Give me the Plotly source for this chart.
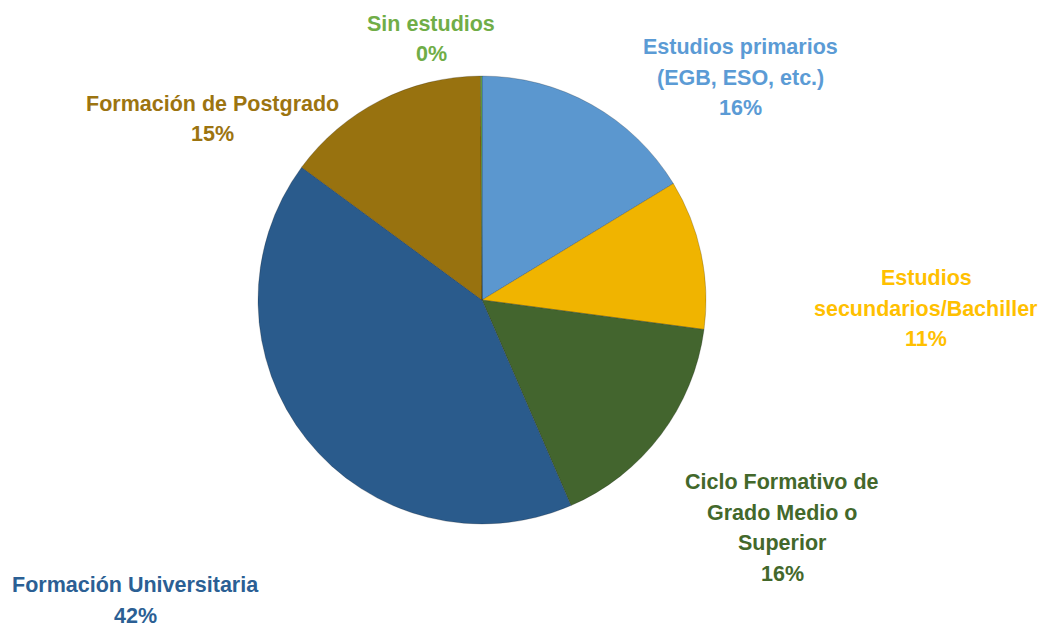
import plotly.graph_objects as go

categories = [
    "Estudios primarios<br>(EGB, ESO, etc.)",
    "Estudios<br>secundarios/Bachiller",
    "Ciclo Formativo de<br>Grado Medio o<br>Superior",
    "Formación Universitaria",
    "Formación de Postgrado",
    "Sin estudios",
]
values = [16.3, 10.8, 16.4, 41.6, 14.8, 0.1]

slice_colors = ["#5B97CF", "#F0B400", "#43652E", "#2A5B8C", "#98720F", "#70AD47"]
label_colors = ["#5B9BD5", "#FFC000", "#43682B", "#2B5F94", "#9C7410", "#70AD47"]

# label anchor positions (pixels: center x, first-line center y)
label_pos = [(740, 47), (926, 278), (782, 482), (135, 585), (212, 104), (431, 24)]
line_step = 30.5

W, H = 1045, 631
cx, cy, r = 482, 300, 224

fig = go.Figure()
fig.add_trace(go.Pie(
    labels=[c.replace("<br>", " ") for c in categories],
    values=values,
    sort=False,
    direction="clockwise",
    rotation=0,
    marker=dict(colors=slice_colors, line=dict(color="rgba(0,0,0,0.2)", width=1)),
    textinfo="none",
    hoverinfo="label+percent",
    showlegend=False,
    domain=dict(x=[(cx - r) / W, (cx + r) / W], y=[1 - (cy + r) / H, 1 - (cy - r) / H]),
))

font_family = "Liberation Sans, Arial, sans-serif"
for cat, val, col, (px, py) in zip(categories, values, label_colors, label_pos):
    lines = cat.split("<br>") + [f"{round(val)}%"]
    for i, ln in enumerate(lines):
        fig.add_annotation(
            x=px / W, y=1 - (py + i * line_step) / H, xref="paper", yref="paper",
            xanchor="center", yanchor="middle",
            text=f"<b>{ln}</b>",
            showarrow=False,
            font=dict(family=font_family, size=21.5, color=col),
            align="center",
            borderpad=0,
        )

fig.update_layout(
    width=W, height=H,
    margin=dict(l=0, r=0, t=0, b=0),
    paper_bgcolor="white",
    plot_bgcolor="white",
)
fig.write_html(
    "out.html",
    config={"displayModeBar": False},
    post_script="document.body.style.margin='0';document.body.style.overflow='hidden';",
)
